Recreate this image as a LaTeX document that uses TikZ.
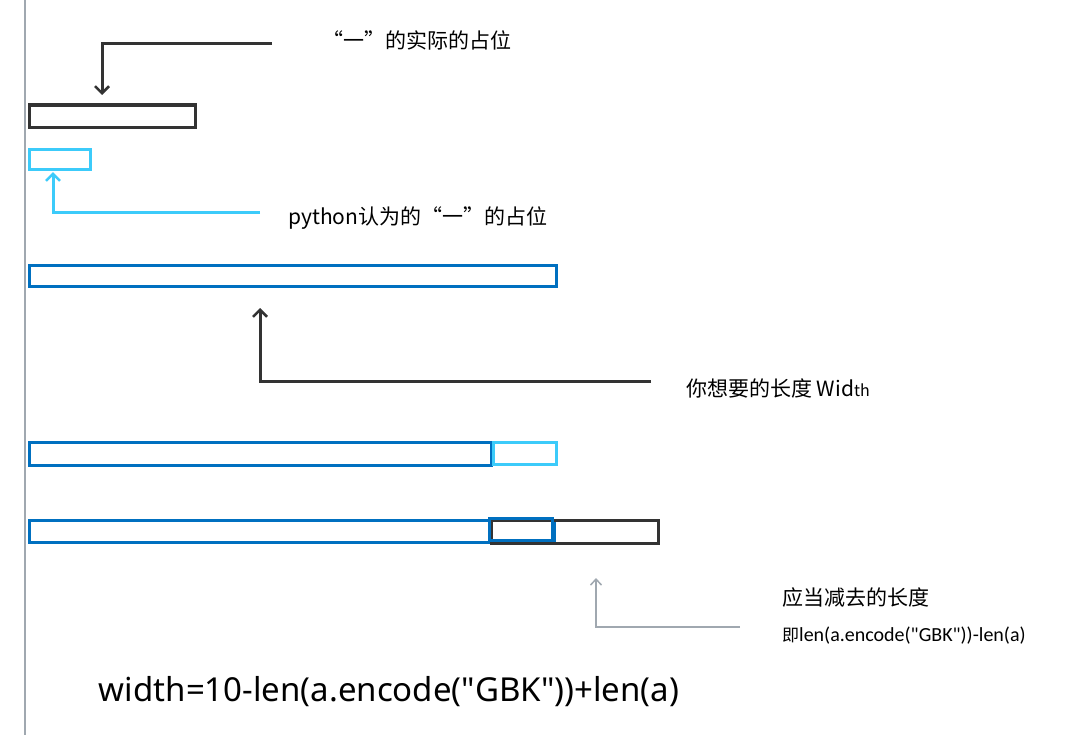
\documentclass[tikz,border=0pt]{standalone}
\usepackage{fontspec}
\setmainfont{Noto Sans}
\newfontfamily\fml{Noto Sans}
\newfontfamily\cjk{Noto Sans CJK SC}
\newfontfamily\cond{Carlito}
\usetikzlibrary{arrows.meta}
\definecolor{dk}{HTML}{333333}
\definecolor{cy}{HTML}{3CCBFA}
\definecolor{bl}{HTML}{0070C0}
\definecolor{gr}{HTML}{A0A8B0}
\begin{document}
\begin{tikzpicture}[x=1pt,y=-1pt,
  box/.style={line width=3pt,fill=white,anchor=north west,inner sep=0pt},
  arr/.style={line width=3pt,-{Straight Barb[length=7pt,width=14pt,line width=2.5pt]}},
  lbl/.style={font=\cjk\fontsize{21}{25}\selectfont,inner sep=0pt}]
\useasboundingbox (0,0) rectangle (1085,752);
\draw[gr,line width=1.5pt] (25,0) -- (25,735);
% row 1
\node[box,draw=dk,minimum width=166pt,minimum height=22pt] (b1) at (27.5,103.5) {};
\node[box,draw=cy,minimum width=61pt,minimum height=20pt] (b2) at (27.5,147.5) {};
\coordinate (a1) at (272,44);
\draw[arr,dk] (a1) -- (102,44) -- (102,95);
\node[lbl,anchor=west] (t1) at (322,40) {“一”的实际的占位};
\coordinate (a2) at (260,212);
\draw[arr,cy] (a2) -- (53,212) -- (53,172);
\node[lbl,anchor=west] (t2) at (288,218) {python认为的“一”的占位};
% row 3
\node[box,draw=bl,minimum width=527pt,minimum height=21pt] (b3) at (27.5,263.5) {};
\coordinate (a3) at (651,381);
\draw[arr,dk] (a3) -- (260,381) -- (260,308);
\node[lbl,anchor=west] (t3) at (686,388) {你想要的长度 Wid{\fontsize{16}{19}\selectfont th}};
% row 4
\node[box,draw=bl,minimum width=462pt,minimum height=23pt] (b4) at (27.5,440.5) {};
\node[box,draw=cy,minimum width=63pt,minimum height=22pt] (b5) at (491.5,440.5) {};
% row 5
\node[box,draw=bl,minimum width=525pt,minimum height=22pt] (b6) at (27.5,518.5) {};
\node[box,draw=dk,fill=none,minimum width=167pt,minimum height=23pt] (b7) at (489.5,518.5) {};
\draw[bl,line width=3pt] (489.5,518.5) rectangle (552.5,540.5);
\coordinate (a4) at (740,627);
\draw[gr,line width=1.5pt,-{Straight Barb[length=6pt,width=11pt,line width=1.5pt]}] (a4) -- (596,627) -- (596,578);
\node[lbl,anchor=west] (t4) at (782,598) {应当减去的长度};
\node[inner sep=0pt,anchor=west] (t5) at (782,636) {{\cjk\fontsize{17}{20}\selectfont 即}{\cond\fontsize{20}{23}\selectfont len(a.encode("GBK"))-len(a)}};
\node[inner sep=0pt,font=\fml\fontsize{33}{39}\selectfont] (f) at (389,692) {width=10-len(a.encode("GBK"))+len(a)};
\end{tikzpicture}
\end{document}
